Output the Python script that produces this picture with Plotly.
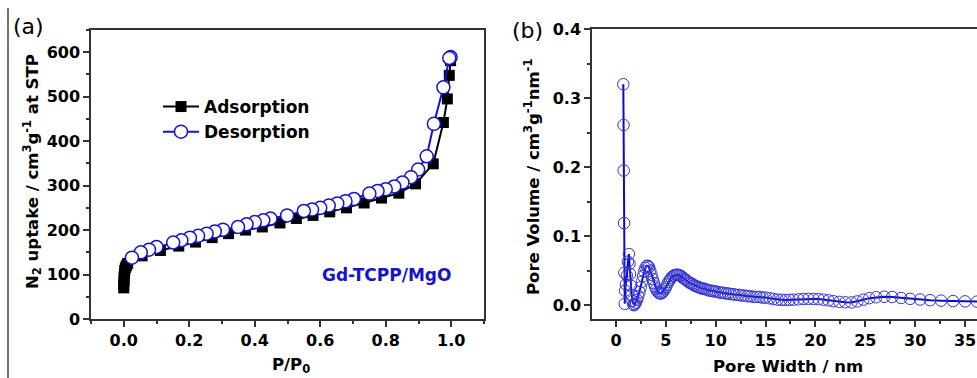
import plotly.graph_objects as go

# ---------------- Panel (a): N2 isotherm ----------------
ads_x = [0.000, 0.000, 0.001, 0.001, 0.002, 0.003, 0.005, 0.008, 0.012,
         0.056, 0.112, 0.168, 0.219, 0.270, 0.320, 0.372, 0.423, 0.477,
         0.527, 0.578, 0.629, 0.680, 0.734, 0.787, 0.840, 0.891, 0.945,
         0.976, 0.988, 0.994, 0.998]
ads_y = [70, 78, 86, 94, 102, 109, 115, 120, 125,
         142, 154, 164, 173, 183, 192, 200, 207, 216,
         226, 233, 241, 250, 261, 272, 283, 304, 349,
         442, 495, 548, 581]

des_x = [0.998, 0.994, 0.976, 0.947, 0.925, 0.899, 0.877, 0.851, 0.826,
         0.800, 0.775, 0.750, 0.703, 0.677, 0.652, 0.626, 0.600, 0.575,
         0.550, 0.499, 0.448, 0.426, 0.400, 0.375, 0.349, 0.303, 0.278,
         0.253, 0.227, 0.202, 0.176, 0.151, 0.100, 0.077, 0.052, 0.025]
des_y = [589, 587, 521, 439, 366, 336, 319, 307, 298,
         292, 288, 282, 270, 265, 260, 255, 250, 246,
         243, 233, 226, 222, 218, 213, 207, 201, 197,
         192, 187, 183, 177, 172, 162, 156, 150, 138]

# ---------------- Panel (b): pore size distribution ----------------
pw_x = [0.74, 0.76, 0.78, 0.82, 0.85, 0.88, 0.92, 1.00, 1.10, 1.20, 1.30, 1.36,
        1.42, 1.50, 1.58, 1.66, 1.74, 1.82, 1.90,
        2.00, 2.12, 2.24, 2.36, 2.48, 2.60, 2.72, 2.84, 2.96, 3.08, 3.20, 3.32,
        3.44, 3.56, 3.68, 3.80, 3.92, 4.04, 4.16, 4.28, 4.40, 4.52, 4.64, 4.76,
        4.88, 5.00, 5.14, 5.28, 5.42, 5.56, 5.70, 5.84, 5.98, 6.12, 6.26, 6.40,
        6.55, 6.70, 6.85, 7.00, 7.16, 7.32, 7.48, 7.64, 7.80, 7.96, 8.13, 8.30,
        8.47, 8.64, 8.82, 9.00, 9.20, 9.40, 9.60, 9.80, 10.0, 10.25, 10.5, 10.75,
        11.0, 11.25, 11.5, 11.75, 12.0, 12.3, 12.6, 12.9, 13.2, 13.5, 13.8, 14.1,
        14.4, 14.7, 15.0, 15.4, 15.8, 16.2, 16.6, 17.0, 17.4, 17.8, 18.3, 18.8,
        19.3, 19.8, 20.3, 20.8, 21.3, 21.8, 22.4, 23.0, 23.6, 24.2, 24.8, 25.4,
        26.1, 26.9, 27.7, 28.6, 29.5, 30.5, 31.5, 32.6, 33.8, 35.0, 36.2, 37.5]
pw_y = [0.320, 0.261, 0.195, 0.119, 0.047, 0.002, 0.021, 0.030, 0.043, 0.063, 0.074, 0.060,
        0.045, 0.028, 0.015, 0.006, 0.001, 0.000, 0.002,
        0.004, 0.008, 0.013, 0.019, 0.026, 0.034, 0.042, 0.049, 0.054, 0.057, 0.057, 0.055,
        0.050, 0.044, 0.038, 0.032, 0.027, 0.023, 0.020, 0.018, 0.017, 0.017, 0.018, 0.020,
        0.023, 0.026, 0.030, 0.034, 0.037, 0.040, 0.042, 0.043, 0.044, 0.044, 0.044, 0.043,
        0.042, 0.040, 0.038, 0.037, 0.035, 0.033, 0.032, 0.031, 0.029, 0.028, 0.027, 0.026,
        0.025, 0.024, 0.024, 0.023, 0.022, 0.021, 0.021, 0.020, 0.020, 0.019, 0.018, 0.018,
        0.017, 0.017, 0.016, 0.016, 0.015, 0.015, 0.014, 0.014, 0.013, 0.013, 0.012, 0.012,
        0.012, 0.011, 0.011, 0.010, 0.009, 0.008, 0.0078, 0.0075, 0.0078, 0.008, 0.0085, 0.009,
        0.0092, 0.009, 0.0088, 0.008, 0.007, 0.0058, 0.0048, 0.0042, 0.004, 0.0055, 0.008, 0.0102,
        0.0115, 0.0122, 0.0118, 0.0105, 0.0092, 0.0082, 0.0073, 0.0066, 0.006, 0.0055, 0.0052, 0.005]

W, H = 977, 378
BLUE = "#1414cc"
AXC = "#333333"
FONT = "DejaVu Sans"


def px_x(p):
    return p / W


def px_y(p):
    return (H - p) / H


fig = go.Figure()

fig.add_trace(go.Scatter(
    x=ads_x, y=ads_y, mode="lines+markers", name="Adsorption",
    line=dict(color="black", width=2),
    marker=dict(symbol="square", size=11, color="black"),
    xaxis="x", yaxis="y"))
fig.add_trace(go.Scatter(
    x=des_x, y=des_y, mode="lines+markers", name="Desorption",
    line=dict(color=BLUE, width=2),
    marker=dict(symbol="circle", size=13, color="white",
                line=dict(color=BLUE, width=1.5)),
    xaxis="x", yaxis="y"))
fig.add_trace(go.Scatter(
    x=pw_x, y=pw_y, mode="lines+markers", name="PSD", showlegend=False,
    line=dict(color="#0a0acc", width=2),
    marker=dict(symbol="circle-open", size=11.5, color="#3434d4",
                line=dict(width=1)),
    xaxis="x2", yaxis="y2", cliponaxis=True))

tickfont = dict(family=FONT, size=16, color="black", weight="bold")
common = dict(showline=True, linecolor=AXC, linewidth=1.5, ticks="outside",
              tickcolor=AXC, tickwidth=1.5, ticklen=6, showgrid=False,
              zeroline=False, tickfont=tickfont, automargin=False)

fig.update_layout(
    template="none",
    width=W, height=H, autosize=False,
    margin=dict(l=0, r=0, t=0, b=0, pad=0),
    paper_bgcolor="white", plot_bgcolor="white",
    xaxis=dict(domain=[px_x(91), px_x(484)], range=[-0.1, 1.1], dtick=0.2,
               tick0=0, tickformat=".1f", mirror=True, anchor="y",
               minor=dict(dtick=0.1, ticks="outside", ticklen=3.5,
                          tickcolor=AXC, tickwidth=1.5), **common),
    yaxis=dict(domain=[px_y(319), px_y(30)], range=[0, 650], dtick=100,
               tick0=0, mirror=True, anchor="x",
               minor=dict(dtick=50, ticks="outside", ticklen=3.5,
                          tickcolor=AXC, tickwidth=1.5), **common),
    xaxis2=dict(domain=[px_x(592), 1.0], range=[-2.4, 36.2], dtick=5,
                tick0=0, mirror=True, anchor="y2",
                minor=dict(dtick=2.5, ticks="outside", ticklen=3.5,
                           tickcolor=AXC, tickwidth=1.5), **common),
    yaxis2=dict(domain=[px_y(319), px_y(29)], range=[-0.02, 0.4], dtick=0.1,
                tick0=0, tickformat=".1f", anchor="x2",
                minor=dict(dtick=0.05, ticks="outside", ticklen=3.5,
                           tickcolor=AXC, tickwidth=1.5), **common),
    legend=dict(x=px_x(158), y=px_y(89), xanchor="left", yanchor="top",
                bgcolor="rgba(0,0,0,0)", borderwidth=0, tracegroupgap=0,
                itemwidth=36,
                font=dict(family=FONT, size=17, color="black", weight="bold")),
    showlegend=True,
)

tfont = dict(family=FONT, size=16.5, color="black", weight="bold")
fig.add_annotation(text="N<sub>2</sub> uptake / cm<sup>3</sup>g<sup>-1</sup> at STP",
                   x=px_x(32), y=px_y(172), xref="paper", yref="paper",
                   textangle=-90, showarrow=False, font=tfont,
                   xanchor="center", yanchor="middle")
fig.add_annotation(text="P/P<sub>0</sub>", x=px_x(291), y=px_y(365),
                   xref="paper", yref="paper", showarrow=False, font=tfont,
                   xanchor="center", yanchor="middle")
fig.add_annotation(text="Pore Width / nm", x=px_x(788), y=px_y(366),
                   xref="paper", yref="paper", showarrow=False, font=tfont,
                   xanchor="center", yanchor="middle")
fig.add_annotation(text="Pore Volume / cm<sup>3</sup>g<sup>-1</sup>nm<sup>-1</sup>",
                   x=px_x(532), y=px_y(177), xref="paper", yref="paper",
                   textangle=-90, showarrow=False, font=tfont,
                   xanchor="center", yanchor="middle")
fig.add_annotation(text="Gd-TCPP/MgO", x=px_x(386), y=px_y(275),
                   xref="paper", yref="paper", showarrow=False,
                   font=dict(family=FONT, size=17, color=BLUE, weight="bold"),
                   xanchor="center", yanchor="middle")
fig.add_annotation(text="(a)", x=px_x(28), y=px_y(26), xref="paper", yref="paper",
                   showarrow=False, font=dict(family=FONT, size=22, color="black"),
                   xanchor="center", yanchor="middle")
fig.add_annotation(text="(b)", x=px_x(527), y=px_y(31), xref="paper", yref="paper",
                   showarrow=False, font=dict(family=FONT, size=22, color="black"),
                   xanchor="center", yanchor="middle")

# left separator rule
fig.add_shape(type="line", xref="paper", yref="paper",
              x0=px_x(8), x1=px_x(8), y0=0, y1=px_y(8),
              line=dict(color="#444444", width=1.5))

fig.write_html("out.html")
